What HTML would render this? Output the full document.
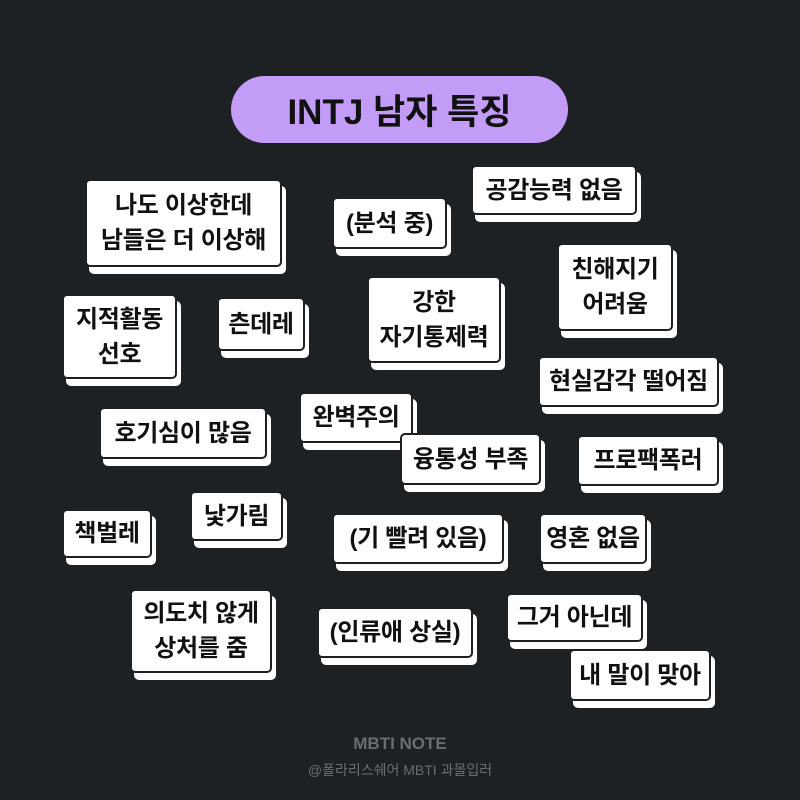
<!DOCTYPE html>
<html><head><meta charset="utf-8"><style>
body{margin:0;width:800px;height:800px;background:#1e2123;position:relative;overflow:hidden;font-family:"Liberation Sans","Noto Sans CJK KR",sans-serif}
.c{position:absolute;box-sizing:border-box;background:#fff;border:2px solid #1e2123;border-radius:5px;box-shadow:4px 7px 0 #fff;display:flex;align-items:center;justify-content:center;text-align:center;font-weight:700;font-size:24px;line-height:35px;color:#111;white-space:nowrap;letter-spacing:-0.3px}
.t{position:absolute;left:231px;top:76px;width:337px;height:67px;border-radius:34px;background:#c39cf7;color:#111;font-weight:700;font-size:35px;display:flex;align-items:center;justify-content:center}
.f{position:absolute;left:0;width:800px;text-align:center;color:#6b6d70}
</style></head><body>
<div class="t">INTJ 남자 특징</div>
<div class="c" style="left:85px;top:179px;width:197px;height:88px">나도 이상한데<br>남들은 더 이상해</div>
<div class="c" style="left:332px;top:197px;width:115px;height:52px">(분석 중)</div>
<div class="c" style="left:471px;top:165px;width:166px;height:50px">공감능력 없음</div>
<div class="c" style="left:557px;top:243px;width:116px;height:88px">친해지기<br>어려움</div>
<div class="c" style="left:62px;top:294px;width:115px;height:85px">지적활동<br>선호</div>
<div class="c" style="left:217px;top:297px;width:88px;height:54px">츤데레</div>
<div class="c" style="left:367px;top:276px;width:134px;height:87px">강한<br>자기통제력</div>
<div class="c" style="left:538px;top:356px;width:181px;height:51px">현실감각 떨어짐</div>
<div class="c" style="left:99px;top:407px;width:168px;height:52px">호기심이 많음</div>
<div class="c" style="left:299px;top:392px;width:114px;height:51px">완벽주의</div>
<div class="c" style="left:400px;top:433px;width:141px;height:52px">융통성 부족</div>
<div class="c" style="left:577px;top:435px;width:142px;height:51px">프로팩폭러</div>
<div class="c" style="left:62px;top:509px;width:90px;height:49px">책벌레</div>
<div class="c" style="left:190px;top:491px;width:93px;height:50px">낯가림</div>
<div class="c" style="left:332px;top:513px;width:172px;height:51px">(기 빨려 있음)</div>
<div class="c" style="left:539px;top:513px;width:108px;height:51px">영혼 없음</div>
<div class="c" style="left:130px;top:589px;width:142px;height:84px">의도치 않게<br>상처를 줌</div>
<div class="c" style="left:317px;top:607px;width:156px;height:51px">(인류애 상실)</div>
<div class="c" style="left:506px;top:593px;width:137px;height:49px">그거 아닌데</div>
<div class="c" style="left:569px;top:649px;width:142px;height:52px">내 말이 맞아</div>
<div class="f" style="top:734px;font-size:17px;font-weight:700">MBTI NOTE</div>
<div class="f" style="top:760px;font-size:14px">@폴라리스쉐어 MBTI 과몰입러</div>
</body></html>
